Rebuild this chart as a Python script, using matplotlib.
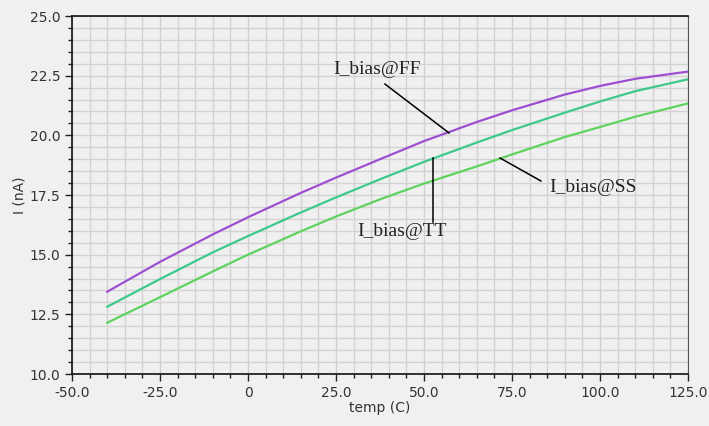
import matplotlib.pyplot as plt
from matplotlib.ticker import MultipleLocator, FuncFormatter

# temperature sweep (C) and bias current per corner (nA)
temp = [-40, -25, -10, 0, 15, 25, 37.5, 50, 65, 75, 90, 100, 110, 125]
i_ff = [13.45, 14.70, 15.85, 16.57, 17.59, 18.23, 19.0, 19.76, 20.56, 21.05, 21.71, 22.07, 22.37, 22.67]
i_tt = [12.82, 13.98, 15.10, 15.78, 16.77, 17.40, 18.16, 18.89, 19.70, 20.22, 20.95, 21.42, 21.85, 22.35]
i_ss = [12.15, 13.22, 14.30, 15.0, 15.98, 16.6, 17.32, 17.98, 18.7, 19.2, 19.93, 20.35, 20.78, 21.34]

bg = '#f0f0f0'
fig = plt.figure(figsize=(7.09, 4.26), dpi=100, facecolor=bg)
ax = fig.add_axes([0.1016, 0.122, 0.8688, 0.8404], facecolor=bg)

ax.plot(temp, i_ff, color='#9d4fd2', lw=1.6)
ax.plot(temp, i_tt, color='#3ec98c', lw=1.6)
ax.plot(temp, i_ss, color='#5fd35f', lw=1.6)

ax.set_xlim(-50, 125)
ax.set_ylim(10, 25)
ax.xaxis.set_major_locator(MultipleLocator(25))
ax.xaxis.set_minor_locator(MultipleLocator(5))
ax.yaxis.set_major_locator(MultipleLocator(2.5))
ax.yaxis.set_minor_locator(MultipleLocator(0.5))
ax.xaxis.set_major_formatter(FuncFormatter(lambda v, p: '0' if v == 0 else f'{v:.1f}'))
ax.yaxis.set_major_formatter(FuncFormatter(lambda v, p: f'{v:.1f}'))

ax.grid(which='both', color='#d2d2d2', lw=1.0)
ax.set_axisbelow(True)
ax.tick_params(which='major', length=5, width=1, color='#222222', labelsize=10, labelcolor='#333333')
ax.tick_params(which='minor', length=3, width=1, color='#222222')
for s in ['left', 'bottom', 'top']:
    ax.spines[s].set_color('#111111')
    ax.spines[s].set_linewidth(1.2)
ax.spines['right'].set_color('#555555')

ax.set_xlabel('temp (C)', fontsize=10, color='#333333', labelpad=1)
ax.set_ylabel('I (nA)', fontsize=10, color='#333333', labelpad=2)

# corner labels with leader lines
lbl = dict(fontsize=14, family='Liberation Serif', color='#222222', ha='center', va='center')
ax.plot([38.9, 57.1], [22.15, 20.1], color='black', lw=1.1)
ax.text(36.6, 22.74, 'I_bias@FF', **lbl)
ax.plot([52.6, 52.6], [19.05, 16.37], color='black', lw=1.1)
ax.text(43.75, 15.99, 'I_bias@TT', **lbl)
ax.plot([71.6, 83.2], [19.05, 18.09], color='black', lw=1.1)
ax.text(98.0, 17.83, 'I_bias@SS', **lbl)

fig.savefig('out.png', dpi=100, facecolor=bg)
